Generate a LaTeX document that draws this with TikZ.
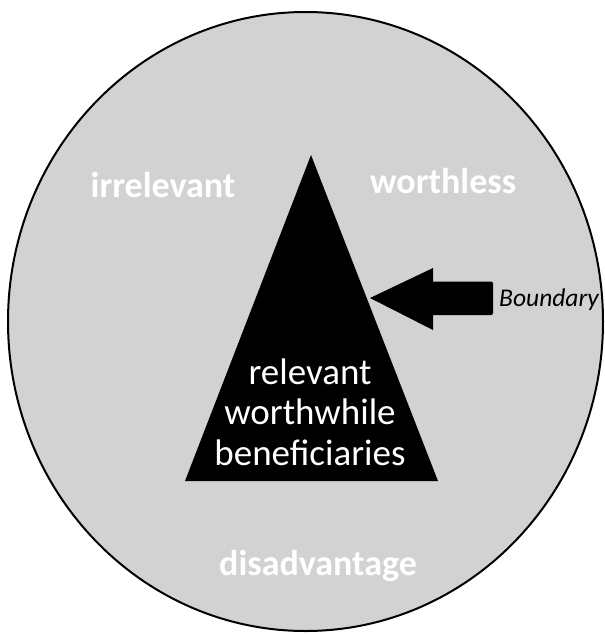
\documentclass[tikz,border=0pt]{standalone}
\usepackage{fontspec}
\setmainfont{Carlito}
\usepackage{xcolor}
\usetikzlibrary{shapes.geometric,positioning,calc}
\definecolor{field}{HTML}{D2D2D2}
\definecolor{ink}{HTML}{000000}

\begin{document}
\begin{tikzpicture}[
  x=1pt,y=-1pt,
  outer/.style={ellipse,draw=ink,line width=2pt,fill=field,
    minimum width=595pt,minimum height=619pt,inner sep=0pt},
  zoneword/.style={anchor=base,text=white,inner sep=0pt,
    font=\fontsize{36}{40}\selectfont\bfseries},
  coreword/.style={align=center,text=white,inner sep=0pt,
    font=\fontsize{37}{40.5}\selectfont},
  callout/.style={anchor=base west,text=ink,inner sep=0pt,
    font=\fontsize{25.5}{28}\selectfont\itshape}
]
  \useasboundingbox (0,0) rectangle (605,635);

  \node[outer] (circle) at (305.5,321.5) {};

  % the target group
  \coordinate (apex) at (311,155);
  \coordinate (baseL) at (185,481);
  \coordinate (baseR) at (438,481);
  \fill[ink] (apex) -- (baseR) -- (baseL) -- cycle;
  \node[coreword,anchor=base] (core) at (310,465)
    {relevant\\worthwhile\\beneficiaries};

  \node[zoneword] (irrelevant) at (163,197) {irrelevant};
  \node[zoneword] (worthless) at (443,193) {worthless};
  \node[zoneword] (disadvantage) at (318,575) {disadvantage};

  % block arrow onto the edge of the triangle
  \coordinate (tip) at (370,298);
  \node[callout] (boundary) at (499,306) {Boundary};
  \coordinate (tail) at ($(tip -| boundary.west)+(-6,0)$);
  \fill[ink] (tip) -- ($(tip)+(63,-30)$) -- ($(tip)+(63,-16.5)$)
    [rounded corners=2pt] -- ($(tail)+(0,-16.5)$)
    -- ($(tail)+(0,17)$) [sharp corners]
    -- ($(tip)+(63,17)$) -- ($(tip)+(63,32)$) -- cycle;
\end{tikzpicture}
\end{document}
